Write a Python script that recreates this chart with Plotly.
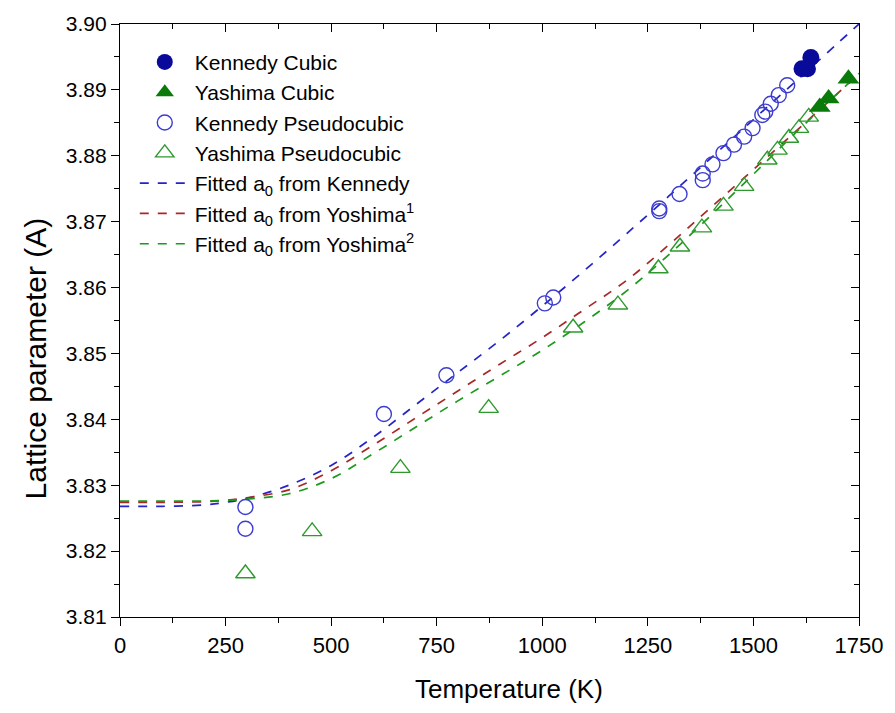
import plotly.graph_objects as go

# ---- data ----
ken_cubic_T = [1615, 1628, 1636]
ken_cubic_a = [3.8932, 3.8932, 3.8949]

yas_cubic_T = [1657, 1678, 1725]
yas_cubic_a = [3.8874, 3.8887, 3.8917]

ken_pseudo_T = [297, 297, 625, 773, 1006, 1026, 1277, 1277, 1325, 1380, 1380, 1403,
                1429, 1454, 1478, 1498, 1521, 1528, 1541, 1560, 1580]
ken_pseudo_a = [3.8267, 3.8234, 3.8408, 3.8467, 3.8576, 3.8585, 3.8716, 3.8720, 3.8742,
                3.8763, 3.8773, 3.8787, 3.8804, 3.8817, 3.8829, 3.8842, 3.8862, 3.8867,
                3.8879, 3.8892, 3.8907]

yas_pseudo_T = [297, 455, 664, 873, 1073, 1179, 1275, 1326, 1378, 1429, 1478, 1533,
                1557, 1584, 1608, 1631]
yas_pseudo_a = [3.8166, 3.8230, 3.8326, 3.8417, 3.8539, 3.8574, 3.8629, 3.8662, 3.8691,
                3.8724, 3.8754, 3.8794, 3.8809, 3.8827, 3.8842, 3.8859]

fit_T = [0, 100, 200, 250, 300, 400, 500, 600, 700, 800, 900, 1000, 1100, 1200, 1300,
         1400, 1500, 1600, 1700, 1750]
fit_kennedy = [3.8268, 3.8268, 3.8270, 3.8274, 3.8280, 3.8300, 3.8330, 3.8373, 3.8422,
               3.8471, 3.8520, 3.8572, 3.8626, 3.8682, 3.8739, 3.8797, 3.8855, 3.8913,
               3.8971, 3.9000]
fit_yoshima1 = [3.8274, 3.8274, 3.8275, 3.8277, 3.8281, 3.8293, 3.8322, 3.8361, 3.8402,
                3.8443, 3.8484, 3.8524, 3.8567, 3.8611, 3.8665, 3.8722, 3.8779, 3.8837,
                3.8895, 3.8924]
fit_yoshima2 = [3.8276, 3.8276, 3.8276, 3.8277, 3.8279, 3.8287, 3.8310, 3.8348, 3.8388,
                3.8428, 3.8466, 3.8505, 3.8548, 3.8595, 3.8650, 3.8710, 3.8772, 3.8835,
                3.8895, 3.8925]

x_ticks = [0, 250, 500, 750, 1000, 1250, 1500, 1750]
y_ticks = [3.81, 3.82, 3.83, 3.84, 3.85, 3.86, 3.87, 3.88, 3.89, 3.90]

FONT = "Liberation Sans, Arial, sans-serif"

fig = go.Figure()

fig.add_trace(go.Scatter(x=fit_T, y=fit_kennedy, mode="lines", line_shape="spline",
                         line=dict(color="#2424c8", width=1.7, dash="dash"),
                         name="Fitted a<sub>0</sub> from Kennedy", legendrank=5))
fig.add_trace(go.Scatter(x=fit_T, y=fit_yoshima1, mode="lines", line_shape="spline",
                         line=dict(color="#a82828", width=1.7, dash="dash"),
                         name="Fitted a<sub>0</sub> from Yoshima<sup>1</sup>", legendrank=6))
fig.add_trace(go.Scatter(x=fit_T, y=fit_yoshima2, mode="lines", line_shape="spline",
                         line=dict(color="#1c9a1c", width=1.7, dash="dash"),
                         name="Fitted a<sub>0</sub> from Yoshima<sup>2</sup>", legendrank=7))

fig.add_trace(go.Scatter(x=ken_pseudo_T, y=ken_pseudo_a, mode="markers",
                         marker=dict(symbol="circle-open", size=15, color="#3c3cd0",
                                     line=dict(width=1.4)),
                         name="Kennedy Pseudocubic", legendrank=3))
fig.add_trace(go.Scatter(x=yas_pseudo_T, y=yas_pseudo_a, mode="markers",
                         marker=dict(symbol="triangle-up-open", size=17, color="#2e9a2e",
                                     line=dict(width=1.4)),
                         name="Yashima Pseudocubic", legendrank=4))
fig.add_trace(go.Scatter(x=ken_cubic_T, y=ken_cubic_a, mode="markers",
                         marker=dict(symbol="circle", size=17, color="#0a0a9a"),
                         name="Kennedy Cubic", legendrank=1))
fig.add_trace(go.Scatter(x=yas_cubic_T, y=yas_cubic_a, mode="markers",
                         marker=dict(symbol="triangle-up", size=19, color="#0a7a0a"),
                         name="Yashima Cubic", legendrank=2))

# empty trace so the mirrored (top/right) axes are drawn
fig.add_trace(go.Scatter(x=[], y=[], xaxis="x2", yaxis="y2", showlegend=False,
                         hoverinfo="skip"))

axis_common = dict(showgrid=False, zeroline=False, showline=True, linecolor="black",
                   linewidth=1.3, tickcolor="black", tickwidth=1.3)

fig.update_layout(
    width=895, height=713,
    margin=dict(l=120, r=33, t=18, b=96),
    paper_bgcolor="white", plot_bgcolor="white",
    font=dict(family=FONT, color="black", size=21),
    xaxis=dict(range=[0, 1750], tickvals=x_ticks, ticks="outside", ticklen=8,
               minor=dict(ticks="outside", ticklen=5, dtick=125, tick0=0,
                          tickcolor="black", tickwidth=1.3),
               tickfont=dict(size=22), **axis_common),
    yaxis=dict(range=[3.81, 3.90], tickvals=y_ticks, tickformat=".2f", ticks="outside",
               ticklen=8,
               minor=dict(ticks="outside", ticklen=5, dtick=0.005, tick0=3.81,
                          tickcolor="black", tickwidth=1.3),
               tickfont=dict(size=21), **axis_common),
    xaxis2=dict(range=[0, 1750], overlaying="x", side="top", tickvals=x_ticks,
                ticks="inside", ticklen=8, showticklabels=False,
                minor=dict(ticks="inside", ticklen=5, dtick=125, tick0=0,
                           tickcolor="black", tickwidth=1.3),
                anchor="y2", **axis_common),
    yaxis2=dict(range=[3.81, 3.90], overlaying="y", side="right", tickvals=y_ticks,
                ticks="inside", ticklen=8, showticklabels=False,
                minor=dict(ticks="inside", ticklen=5, dtick=0.005, tick0=3.81,
                           tickcolor="black", tickwidth=1.3),
                anchor="x2", **axis_common),
    legend=dict(x=0.02, y=0.97, xanchor="left", yanchor="top",
                bgcolor="rgba(0,0,0,0)", font=dict(size=21, family=FONT),
                itemwidth=50, tracegroupgap=0),
    showlegend=True,
    annotations=[
        dict(text="Temperature (K)", xref="paper", yref="paper", x=0.526, y=-0.122,
             xanchor="center", yanchor="middle", showarrow=False,
             font=dict(size=26, family=FONT, color="black")),
        dict(text="Lattice parameter (A)", xref="paper", yref="paper", x=-0.115, y=0.436,
             xanchor="center", yanchor="middle", textangle=-90, showarrow=False,
             font=dict(size=30, family=FONT, color="black")),
    ],
)

fig.write_html("out.html")
